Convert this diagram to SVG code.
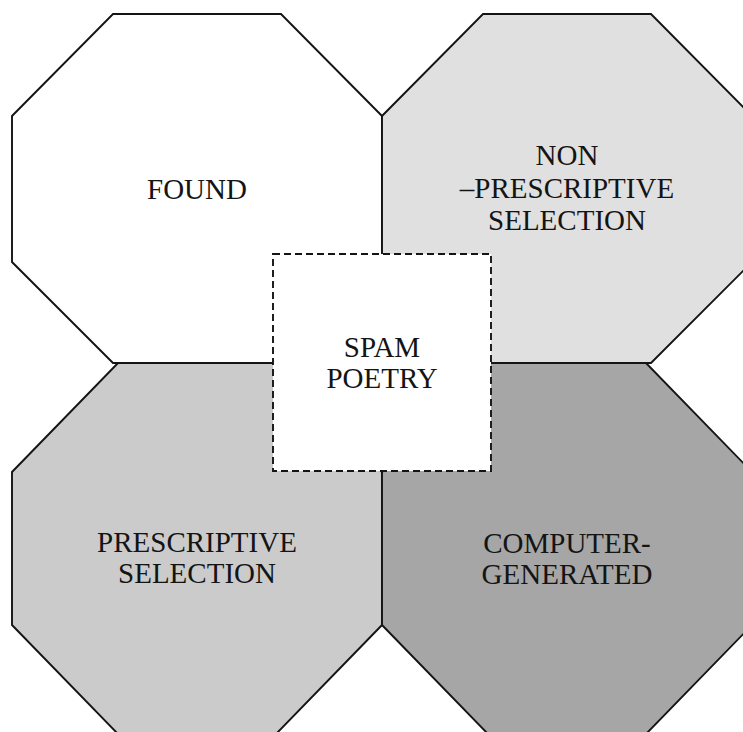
<svg xmlns="http://www.w3.org/2000/svg" width="743" height="732" viewBox="0 0 743 732">
<style>
.oct{stroke:#141414;stroke-width:1.9;stroke-linejoin:miter}
.lbl{font-family:"Liberation Serif","Times New Roman",serif;font-size:29px;fill:#141414;text-anchor:middle}
.box{fill:#ffffff;stroke:#141414;stroke-width:1.9;stroke-dasharray:7 4}
</style>
<rect x="0" y="0" width="743" height="732" fill="#ffffff"/>
<g id="found">
<polygon class="oct" fill="#ffffff" points="113,14 281,14 382,116 382,262 281,363 113,363 12,262 12,116"/>
<text class="lbl" x="197" y="199">FOUND</text>
</g>
<g id="non-prescriptive">
<polygon class="oct" fill="#e0e0e0" points="483,14 651,14 752,116 752,262 651,363 483,363 382,262 382,116"/>
<text class="lbl" x="567" y="165">NON</text>
<text class="lbl" x="567" y="198">–PRESCRIPTIVE</text>
<text class="lbl" x="567" y="230">SELECTION</text>
</g>
<g id="prescriptive">
<polygon class="oct" fill="#cbcbcb" points="118,363 276,363 382,472 382,625 276,734 118,734 12,625 12,472"/>
<text class="lbl" x="197" y="552">PRESCRIPTIVE</text>
<text class="lbl" x="197" y="583">SELECTION</text>
</g>
<g id="computer-generated">
<polygon class="oct" fill="#a6a6a6" points="488,363 646,363 752,472 752,625 646,734 488,734 382,625 382,472"/>
<text class="lbl" x="567" y="553">COMPUTER-</text>
<text class="lbl" x="567" y="584">GENERATED</text>
</g>
<g id="connectors"></g>
<g id="spam-poetry">
<rect class="box" x="273" y="254" width="218" height="217"/>
<text class="lbl" x="382" y="357">SPAM</text>
<text class="lbl" x="382" y="388">POETRY</text>
</g>
</svg>
